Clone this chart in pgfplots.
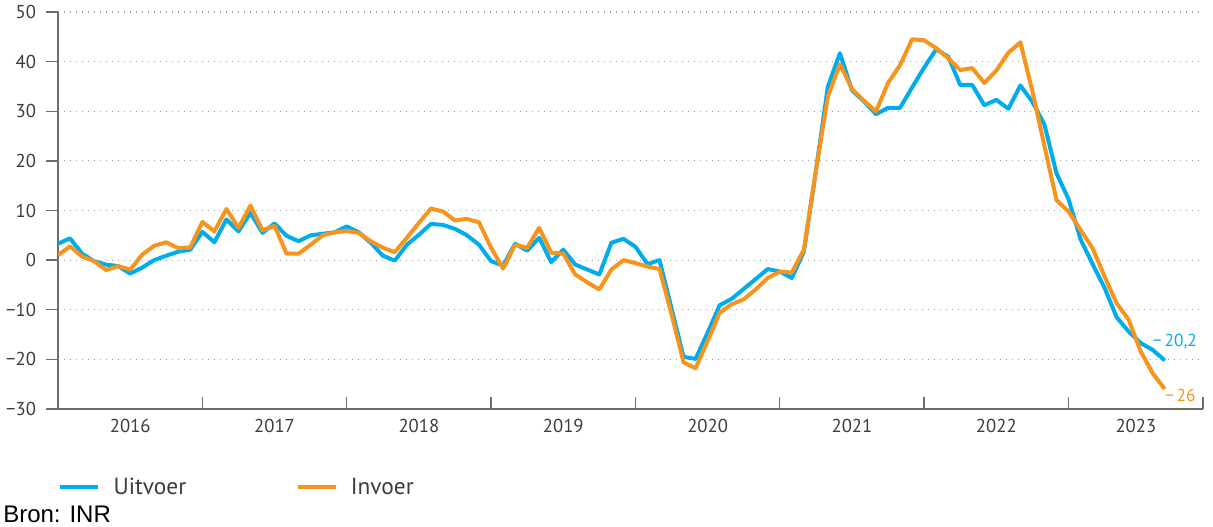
\documentclass[border=0pt]{standalone}
\usepackage{pgfplots}
\pgfplotsset{compat=1.18}
\usepackage{fontspec}
\setmainfont{PT Sans}
\newfontfamily\bronfont{Liberation Sans}
\definecolor{uitblue}{RGB}{0,172,236}
\definecolor{inorange}{RGB}{247,148,29}
\definecolor{axisgray}{RGB}{110,110,110}
\definecolor{gridgray}{RGB}{160,160,160}
\definecolor{labelgray}{RGB}{60,60,60}

\pgfplotstableread{
i B O
0 3.3 1.0
1 4.4 2.8
2 1.3 0.7
3 -0.2 -0.2
4 -0.9 -2.0
5 -1.2 -1.2
6 -2.7 -1.9
7 -1.5 1.1
8 0.0 2.9
9 0.9 3.6
10 1.7 2.4
11 2.1 2.6
12 5.7 7.7
13 3.6 5.8
14 8.2 10.3
15 5.8 6.5
16 9.5 11.0
17 5.5 6.0
18 7.4 6.9
19 4.9 1.3
20 3.8 1.3
21 5.0 3.1
22 5.3 5.0
23 5.6 5.6
24 6.8 5.9
25 5.6 5.5
26 3.5 3.8
27 0.9 2.5
28 -0.1 1.6
29 3.1 4.5
30 5.1 7.5
31 7.3 10.4
32 7.1 9.8
33 6.3 8.0
34 5.0 8.3
35 3.1 7.6
36 -0.2 2.5
37 -1.1 -1.7
38 3.3 3.1
39 1.9 2.5
40 4.5 6.5
41 -0.4 1.5
42 2.1 1.3
43 -0.9 -2.9
44 -1.9 -4.5
45 -2.9 -5.9
46 3.5 -1.9
47 4.3 0.0
48 2.7 -0.6
49 -0.8 -1.3
50 0.0 -1.8
51 -9.7 -10.9
52 -19.5 -20.6
53 -19.9 -21.8
54 -14.6 -16.3
55 -9.1 -10.6
56 -7.8 -8.9
57 -5.8 -7.9
58 -3.8 -5.9
59 -1.8 -3.6
60 -2.3 -2.3
61 -3.6 -2.5
62 1.7 2.1
63 18.0 18.0
64 35.0 33.0
65 41.7 39.5
66 34.2 34.5
67 32.0 32.1
68 29.4 30.0
69 30.7 35.7
70 30.7 39.3
71 34.8 44.5
72 38.8 44.3
73 42.5 42.7
74 41.0 40.7
75 35.3 38.3
76 35.3 38.7
77 31.2 35.7
78 32.3 38.2
79 30.5 41.8
80 35.2 43.9
81 31.9 34.0
82 27.3 23.0
83 17.5 12.1
84 12.3 9.8
85 4.2 6.1
86 -0.8 2.4
87 -5.6 -3.3
88 -11.5 -8.7
89 -14.4 -12.0
90 -16.7 -18.4
91 -18.1 -22.8
92 -20.2 -26.0
}\datatable

\begin{document}
\begin{tikzpicture}
\useasboundingbox (-43.5pt,-87.75pt) rectangle (866.25pt,306.75pt);
\begin{axis}[
  at={(0pt,0pt)}, anchor=south west,
  scale only axis, width=858.75pt, height=297.75pt,
  xmin=0, xmax=95.18, ymin=-30, ymax=50,
  axis x line*=bottom, axis y line*=left,
  axis line style={draw=axisgray, line width=1pt},
  xtick={0,12,24,36,48,60,72,84,95.18}, xticklabels={},
  extra x ticks={6,18,30,42,54,66,78,89.6},
  extra x tick labels={2016,2017,2018,2019,2020,2021,2022,2023},
  extra x tick style={major tick length=0pt, grid=none},
  ytick={-30,-20,-10,0,10,20,30,40,50},
  yticklabels={−30,−20,−10,0,10,20,30,40,50},
  tick align=outside, major tick length=9pt,
  x tick style={yshift=9pt},
  tick style={draw=axisgray, line width=1pt},
  ymajorgrids,
  grid style={draw=gridgray, line width=0.9pt, dash pattern=on 0.9pt off 3.6pt},
  ticklabel style={font=\fontsize{14}{16}\selectfont, text=labelgray},
  xticklabel style={yshift=-4pt},
  yticklabel style={xshift=-4pt},
  legend style={at={(0,-0.1965)}, anchor=west, draw=none, fill=none,
    font=\fontsize{17.5}{19}\selectfont, text=labelgray, inner sep=0pt,
    legend columns=2,
    /tikz/every odd column/.append style={column sep=8pt},
    /tikz/every even column/.append style={column sep=80pt}},
  legend image code/.code={\draw[#1, line width=3pt] (0pt,0pt) -- (28.5pt,0pt);},
  legend cell align=left,
]
\addplot[uitblue, line width=3pt, line join=round] table[x=i, y=B] {\datatable};
\addlegendentry{Uitvoer}
\addplot[inorange, line width=3pt, line join=round] table[x=i, y=O] {\datatable};
\addlegendentry{Invoer}
\node[anchor=west, text=uitblue, font=\fontsize{13}{15}\selectfont, inner sep=0pt] at (axis cs:91.0,-16.4) {−\,20,2};
\node[anchor=west, text=inorange, font=\fontsize{13}{15}\selectfont, inner sep=0pt] at (axis cs:92.0,-27.2) {−\,26};
\end{axis}
\node[anchor=west, inner sep=0pt, font=\fontsize{18}{20}\bronfont] at (-41.25pt,-78.75pt) {Bron: INR};
\end{tikzpicture}
\end{document}
